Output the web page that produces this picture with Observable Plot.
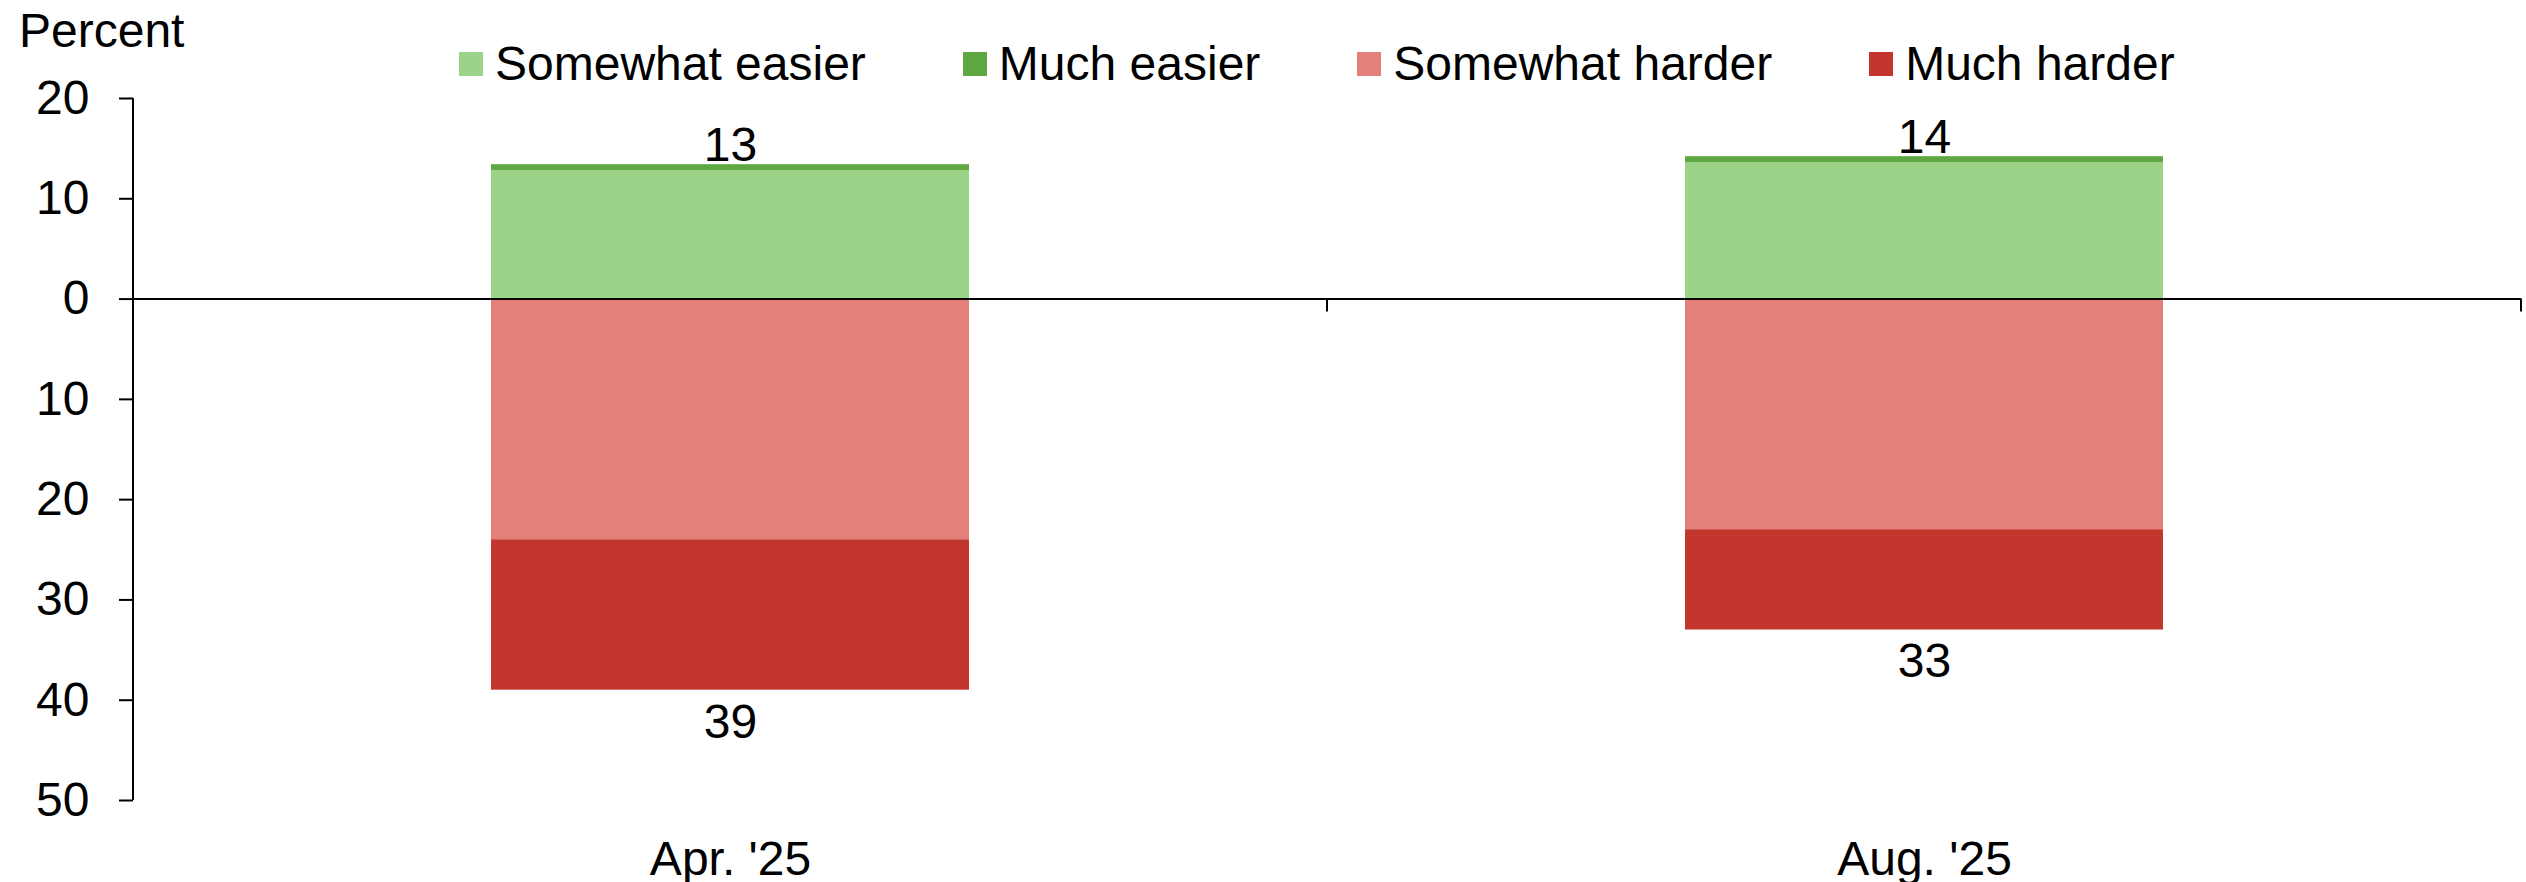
<!DOCTYPE html>
<html>
<head>
<meta charset="utf-8">
<script src="https://cdn.jsdelivr.net/npm/d3@7"></script>
<script src="https://cdn.jsdelivr.net/npm/@observablehq/plot@0.6"></script>
<style>
  body { margin: 0; background: #fff; }
  #chart { position: relative; width: 2526px; height: 882px; font-family: "Liberation Sans", Arial, sans-serif; color: #000; }
  #chart svg { position: absolute; left: 0; top: 0; }
  .unit { position: absolute; left: 19px; top: 7px; font-size: 48px; line-height: 1; }
  .legend { position: absolute; left: 459px; top: 40px; display: flex; align-items: center; gap: 97px; font-size: 48px; line-height: 1; }
  .legend .item { display: flex; align-items: center; gap: 12px; }
  .legend .sw { width: 24px; height: 24px; }
</style>
</head>
<body>
<div id="chart">
  <div class="unit">Percent</div>
  <div class="legend" id="legend"></div>
</div>
<script>
// Survey periods and response shares (percent)
const months = ["Apr. '25", "Aug. '25"];
const series = ["Somewhat easier", "Much easier", "Somewhat harder", "Much harder"];
const colors = ["#9BD388", "#5DA840", "#E3807A", "#C2362D"];
const somewhatEasier = [12.8, 13.6];
const muchEasier = [0.6, 0.6];
const somewhatHarder = [24, 23];
const muchHarder = [15, 10];
const yTicks = [20, 10, 0, -10, -20, -30, -40, -50];

// "Harder" responses are plotted below zero
const rows = [];
months.forEach((m, i) => {
  rows.push({month: m, series: series[0], value: somewhatEasier[i]});
  rows.push({month: m, series: series[1], value: muchEasier[i]});
  rows.push({month: m, series: series[2], value: -somewhatHarder[i]});
  rows.push({month: m, series: series[3], value: -muchHarder[i]});
});
const easierTotals = months.map((m, i) => ({month: m, total: somewhatEasier[i] + muchEasier[i]}));
const harderTotals = months.map((m, i) => ({month: m, total: -(somewhatHarder[i] + muchHarder[i])}));

// Legend
const legend = document.getElementById("legend");
series.forEach((s, i) => {
  const item = document.createElement("div");
  item.className = "item";
  const sw = document.createElement("div");
  sw.className = "sw";
  sw.style.background = colors[i];
  const label = document.createElement("span");
  label.textContent = s;
  item.append(sw, label);
  legend.append(item);
});

// Left axis line and category-boundary ticks on the zero line
function axisLines(index, scales, values, dimensions) {
  const {x, y} = scales;
  const g = d3.create("svg:g").attr("stroke", "#000").attr("stroke-width", 2).attr("fill", "none");
  const x0 = dimensions.marginLeft;
  g.append("line").attr("x1", x0).attr("x2", x0)
    .attr("y1", y(yTicks[0])).attr("y2", y(yTicks[yTicks.length - 1]));
  const bw = typeof x.bandwidth === "function" ? x.bandwidth() : scales.scales.x.bandwidth;
  const step = typeof x.step === "function" ? x.step() : scales.scales.x.step;
  for (const m of months) {
    const bx = x(m) + bw + (step - bw) / 2;
    g.append("line").attr("x1", bx).attr("x2", bx).attr("y1", y(0)).attr("y2", y(0) + 13);
  }
  return g.node();
}

const plot = Plot.plot({
  width: 2526,
  height: 882,
  marginTop: 98,
  marginBottom: 82,
  marginLeft: 133,
  marginRight: 5,
  style: {fontFamily: '"Liberation Sans", Arial, sans-serif', fontSize: "48px", color: "#000", background: "transparent", overflow: "visible"},
  x: {domain: months, paddingInner: 0.6, paddingOuter: 0.3, label: null},
  y: {domain: [-50, 20], label: null},
  color: {domain: series, range: colors},
  marks: [
    Plot.barY(rows, {x: "month", y: "value", fill: "series"}),
    Plot.ruleY([0], {stroke: "#000", strokeWidth: 2}),
    Plot.axisY({ticks: yTicks, tickSize: 14, tickPadding: 30, tickFormat: d => Math.abs(d), strokeWidth: 2, label: null}),
    Plot.axisX({tickSize: 0, tickPadding: 40, label: null}),
    axisLines,
    Plot.text(easierTotals, {x: "month", y: "total", text: d => String(Math.round(d.total)), dy: -19, fill: "#000"}),
    Plot.text(harderTotals, {x: "month", y: "total", text: d => String(Math.round(Math.abs(d.total))), dy: 32, fill: "#000"})
  ]
});
document.getElementById("chart").prepend(plot);
</script>
</body>
</html>
